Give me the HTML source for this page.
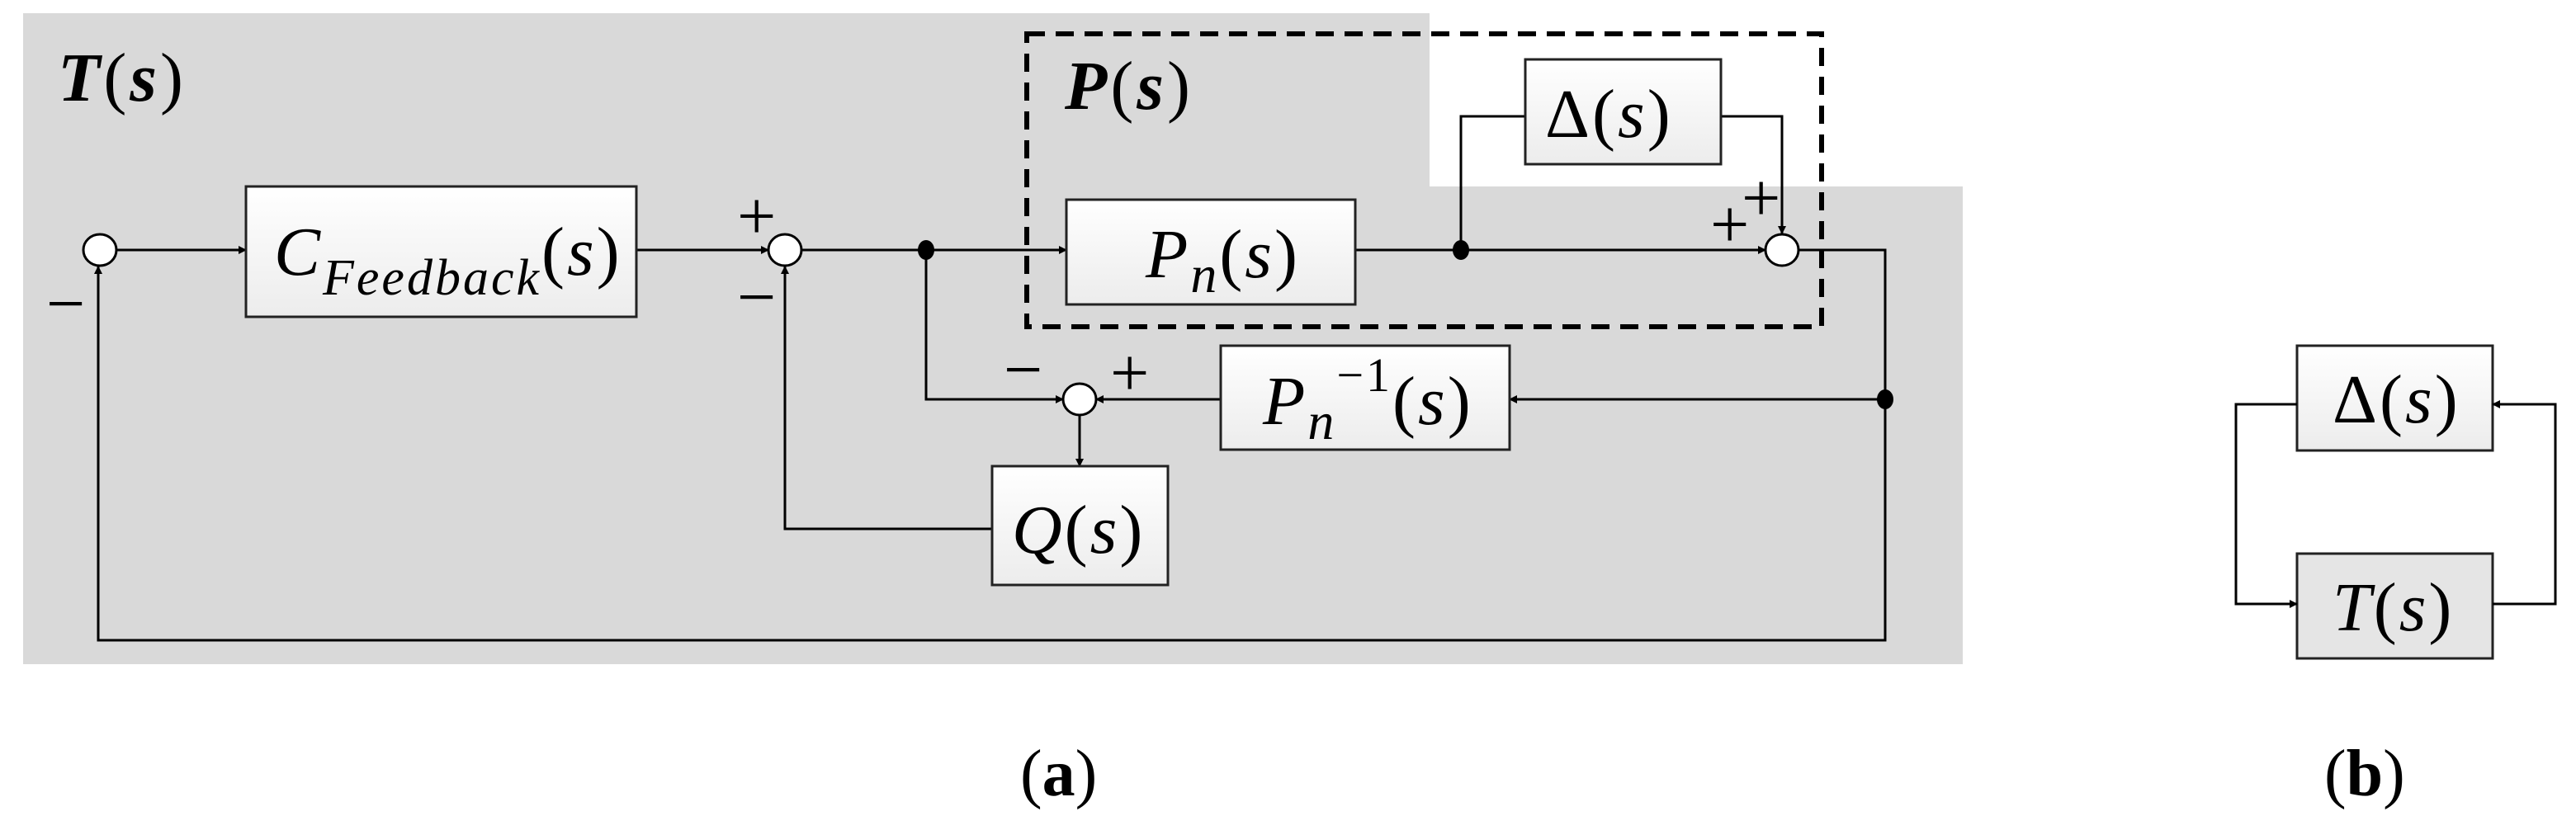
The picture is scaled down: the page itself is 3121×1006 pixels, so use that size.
<!DOCTYPE html>
<html><head><meta charset="utf-8"><style>
html,body{margin:0;padding:0;background:#fff}
svg{display:block}
text{font-family:"Liberation Serif",serif}
.m{font-style:italic}
</style></head><body>
<svg width="3121" height="1006" viewBox="0 0 3121 1006" xmlns="http://www.w3.org/2000/svg">
<defs>
<linearGradient id="g" x1="0" y1="0" x2="0" y2="1"><stop offset="0" stop-color="#ffffff"/><stop offset="1" stop-color="#ececec"/></linearGradient>
<marker id="a" markerWidth="10" markerHeight="10" refX="9" refY="5" orient="auto" markerUnits="userSpaceOnUse"><path d="M0,0 L10,5 L0,10 z" fill="#000"/></marker>
</defs>
<path d="M28,16 H1732 V226 H2378 V805 H28 Z" fill="#d9d9d9"/>
<text x="70" y="122" font-size="84" letter-spacing="4"><tspan font-weight="bold" class="m">T</tspan>(<tspan font-weight="bold" class="m">s</tspan>)</text>
<text x="1290" y="132" font-size="84" letter-spacing="4"><tspan font-weight="bold" class="m">P</tspan>(<tspan font-weight="bold" class="m">s</tspan>)</text>
<rect x="1244" y="41" width="963" height="355" fill="none" stroke="#000" stroke-width="6" stroke-dasharray="22,13"/>
<g stroke="#000" stroke-width="3" fill="none">
<line x1="141" y1="303" x2="298" y2="303" marker-end="url(#a)"/>
<line x1="771" y1="303" x2="931" y2="303" marker-end="url(#a)"/>
<line x1="971" y1="303" x2="1292" y2="303" marker-end="url(#a)"/>
<line x1="1642" y1="303" x2="2139" y2="303" marker-end="url(#a)"/>
<polyline points="1770,303 1770,141 1848,141"/>
<polyline points="2085,141 2159,141 2159,283" marker-end="url(#a)"/>
<polyline points="2179,303 2284,303 2284,776 119,776 119,323" marker-end="url(#a)"/>
<line x1="2284" y1="484" x2="1829" y2="484" marker-end="url(#a)"/>
<line x1="1479" y1="484" x2="1328" y2="484" marker-end="url(#a)"/>
<polyline points="1122,303 1122,484 1288,484" marker-end="url(#a)"/>
<line x1="1308" y1="504" x2="1308" y2="565" marker-end="url(#a)"/>
<polyline points="1202,641 951,641 951,323" marker-end="url(#a)"/>
</g>
<g stroke="#222" stroke-width="3" fill="url(#g)">
<rect x="298" y="226" width="473" height="158"/>
<rect x="1292" y="242" width="350" height="127"/>
<rect x="1848" y="72" width="237" height="127"/>
<rect x="1479" y="419" width="350" height="126"/>
<rect x="1202" y="565" width="213" height="144"/>
<rect x="2783" y="419" width="237" height="127"/>
<rect x="2783" y="671" width="237" height="127" fill="#e5e5e5"/>
</g>
<g stroke="#000" stroke-width="3" fill="#fff">
<ellipse cx="121" cy="303" rx="20" ry="19"/>
<ellipse cx="951" cy="303" rx="20" ry="19"/>
<ellipse cx="2159" cy="303" rx="20" ry="19"/>
<ellipse cx="1308" cy="484" rx="20" ry="19"/>
</g>
<g fill="#000">
<ellipse cx="1122" cy="303" rx="10" ry="12"/>
<ellipse cx="1770" cy="303" rx="10" ry="12"/>
<ellipse cx="2284" cy="484" rx="10" ry="12"/>
</g>
<g font-family="Liberation Sans" font-size="84" fill="#000">
<text x="56" y="396">−</text>
<text x="893" y="290">+</text>
<text x="893" y="388">−</text>
<text x="2072" y="300">+</text>
<text x="2110" y="268">+</text>
<text x="1216" y="476">−</text>
<text x="1345" y="480">+</text>
</g>
<g font-size="84" fill="#000" letter-spacing="3">
<text x="332" y="333"><tspan class="m">C</tspan><tspan class="m" font-size="62" dy="24">Feedback</tspan><tspan dy="-24">(</tspan><tspan class="m">s</tspan>)</text>
<text x="1388" y="336"><tspan class="m">P</tspan><tspan class="m" font-size="64" dy="18">n</tspan><tspan dy="-18">(</tspan><tspan class="m">s</tspan>)</text>
<text x="1872" y="166">Δ(<tspan class="m">s</tspan>)</text>
<text x="1530" y="514"><tspan class="m">P</tspan><tspan class="m" font-size="64" dy="18">n</tspan><tspan font-size="58" dy="-58">−1</tspan><tspan dy="40">(</tspan><tspan class="m">s</tspan>)</text>
<text x="1226" y="670"><tspan class="m">Q</tspan>(<tspan class="m">s</tspan>)</text>
<text x="2826" y="512">Δ(<tspan class="m">s</tspan>)</text>
<text x="2826" y="764"><tspan class="m">T</tspan>(<tspan class="m">s</tspan>)</text>
</g>
<g stroke="#000" stroke-width="3" fill="none">
<polyline points="2783,490 2709,490 2709,732 2783,732" marker-end="url(#a)"/>
<polyline points="3020,732 3096,732 3096,490 3020,490" marker-end="url(#a)"/>
</g>
<text x="1236" y="964" font-size="80">(<tspan font-weight="bold">a</tspan>)</text>
<text x="2816" y="964" font-size="80">(<tspan font-weight="bold">b</tspan>)</text>
</svg>
</body></html>
